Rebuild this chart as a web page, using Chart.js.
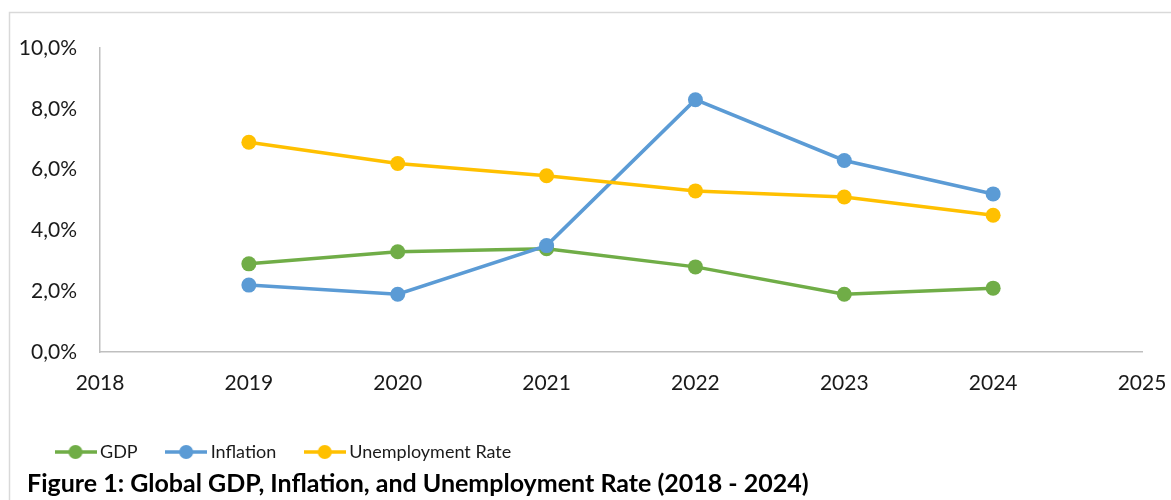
<!DOCTYPE html>
<html>
<head>
<meta charset="utf-8">
<script src="https://cdn.jsdelivr.net/npm/chart.js@4.4.1/dist/chart.umd.min.js"></script>
<style>
  html, body { margin: 0; padding: 0; background: #fff; }
  #wrap { width: 1171px; height: 500px; }
</style>
</head>
<body>
<div id="wrap"><canvas id="c" width="1171" height="500"></canvas></div>
<script>
const years = [2019, 2020, 2021, 2022, 2023, 2024];
const gdp = [2.9, 3.3, 3.4, 2.8, 1.9, 2.1];
const inflation = [2.2, 1.9, 3.5, 8.3, 6.3, 5.2];
const unemployment = [6.9, 6.2, 5.8, 5.3, 5.1, 4.5];
const seriesNames = ['GDP', 'Inflation', 'Unemployment Rate'];
const seriesColors = ['#70AD47', '#5B9BD5', '#FFC000'];
const titleText = 'Figure 1: Global GDP, Inflation, and Unemployment Rate (2018 - 2024)';
const xMin = 2018, xMax = 2025;
const yMin = 0, yMax = 10, yStep = 2;

const FONT = 'Lato, "Open Sans", sans-serif';
const PLOT_LEFT = 100, PLOT_BOTTOM = 352, PAD_LEFT = 10, TEXT_LEFT = 27;

function pts(vals) { return years.map((y, i) => ({ x: y, y: vals[i] })); }

function legendIcon(color) {
  const cv = document.createElement('canvas');
  cv.width = 42; cv.height = 16;
  const g = cv.getContext('2d');
  g.strokeStyle = color; g.lineWidth = 3.5;
  g.beginPath(); g.moveTo(0, 8); g.lineTo(42, 8); g.stroke();
  g.fillStyle = color;
  g.beginPath(); g.arc(21, 8, 7, 0, Math.PI * 2); g.fill();
  return cv;
}

const frame = {
  id: 'frame',
  afterLayout(chart) {
    // legend and caption start further right than the value-axis labels
    if (chart.titleBlock) chart.titleBlock.left = TEXT_LEFT;
    if (chart.legend) chart.legend.left = TEXT_LEFT;
  },
  beforeDraw(chart) {
    const ctx = chart.ctx;
    ctx.save();
    ctx.fillStyle = '#fff';
    ctx.fillRect(0, 0, chart.width, chart.height);
    ctx.strokeStyle = '#D9D9D9';
    ctx.lineWidth = 1.5;
    ctx.beginPath();
    ctx.moveTo(9.5, chart.height + 2);
    ctx.lineTo(9.5, 12.5);
    ctx.lineTo(chart.width + 2, 12.5);
    ctx.stroke();
    ctx.restore();
  }
};

const vals = [gdp, inflation, unemployment];
const datasets = vals.map((v, i) => ({
  label: seriesNames[i],
  data: pts(v),
  borderColor: seriesColors[i],
  backgroundColor: seriesColors[i],
  borderWidth: 3.5,
  pointRadius: 7.5,
  pointHoverRadius: 7.5,
  pointBorderWidth: 0,
  tension: 0,
  order: 3 - i
}));

new Chart(document.getElementById('c'), {
  type: 'line',
  data: { datasets },
  plugins: [frame],
  options: {
    responsive: false,
    animation: false,
    events: [],
    layout: { padding: { left: PAD_LEFT, right: 29, top: 48, bottom: 0 } },
    scales: {
      x: {
        type: 'linear',
        min: xMin, max: xMax,
        grid: { display: false, drawTicks: false },
        border: { display: true, color: '#BFBFBF', width: 1.5 },
        ticks: {
          stepSize: 1, autoSkip: false, padding: 19, maxRotation: 0,
          color: '#1a1a1a', font: { family: FONT, size: 21 },
          callback: v => String(v)
        },
        afterFit(scale) {
          const ch = scale.chart;
          const lh = ch.legend ? ch.legend.height : 0;
          const th = ch.titleBlock ? ch.titleBlock.height : 0;
          scale.height = ch.height - PLOT_BOTTOM - lh - th;
          scale.paddingLeft = 0;
          scale.paddingRight = 0;
        }
      },
      y: {
        min: yMin, max: yMax,
        grid: { display: false, drawTicks: false },
        border: { display: true, color: '#BFBFBF', width: 1.5 },
        ticks: {
          stepSize: yStep, padding: 23,
          color: '#1a1a1a', font: { family: FONT, size: 21 },
          callback: v => v.toFixed(1).replace('.', ',') + '%'
        },
        afterFit(scale) { scale.width = PLOT_LEFT - PAD_LEFT; }
      }
    },
    plugins: {
      tooltip: { enabled: false },
      legend: {
        position: 'bottom',
        align: 'start',
        labels: {
          usePointStyle: true,
          pointStyleWidth: 31,
          padding: 33,
          color: '#1a1a1a',
          font: { family: FONT, size: 18 },
          generateLabels(chart) {
            return chart.data.datasets.map((ds, i) => ({
              text: ds.label,
              pointStyle: legendIcon(ds.borderColor),
              fillStyle: ds.borderColor,
              strokeStyle: ds.borderColor,
              lineWidth: 0,
              hidden: false,
              datasetIndex: i,
              fontColor: '#1a1a1a'
            }));
          }
        }
      },
      title: {
        display: true,
        text: titleText,
        position: 'bottom',
        align: 'start',
        color: '#000',
        padding: { top: 0.5, bottom: 3.5 },
        font: { family: FONT, size: 25, weight: 'bold', lineHeight: 1 }
      }
    }
  }
});
</script>
</body>
</html>
